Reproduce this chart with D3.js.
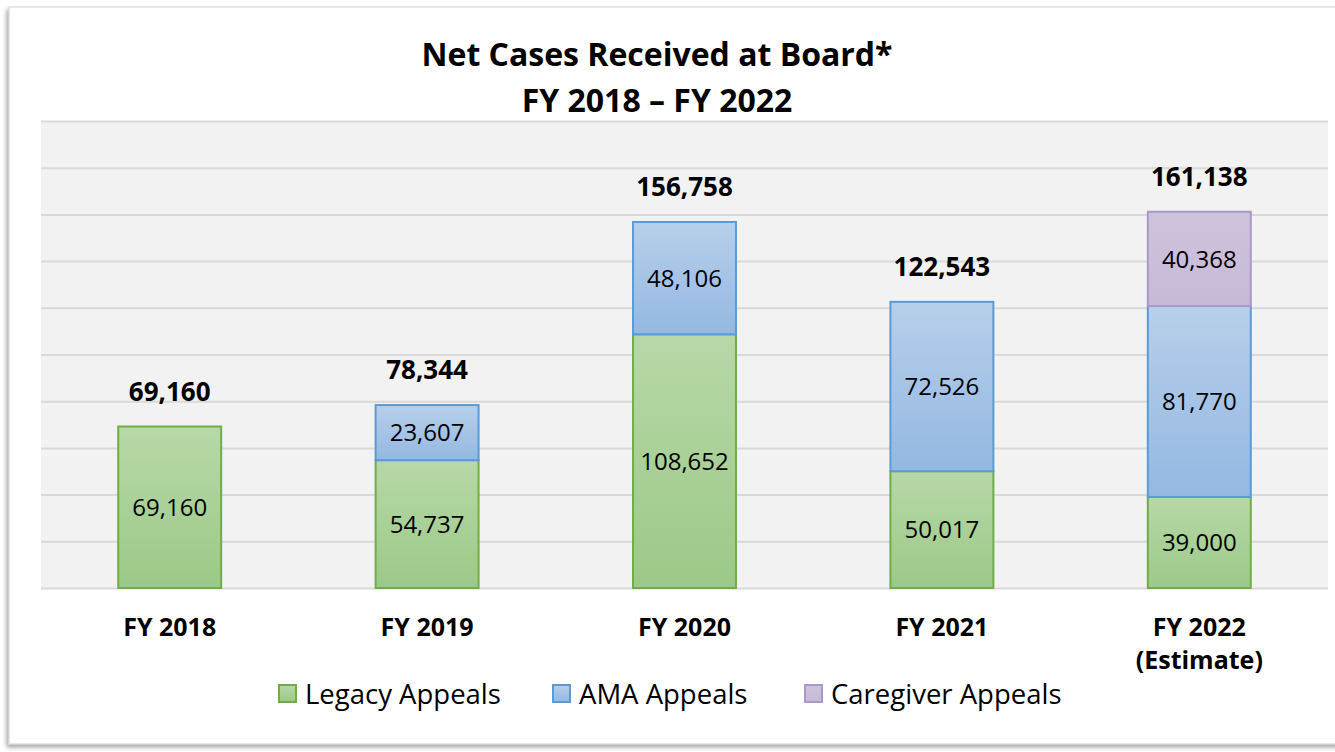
<!DOCTYPE html>
<html>
<head>
<meta charset="utf-8">
<script src="https://cdn.jsdelivr.net/npm/d3@7"></script>
<style>
  html, body { margin: 0; padding: 0; background: #ffffff; }
  svg { display: block; font-family: "Open Sans", Lato, sans-serif; }
</style>
</head>
<body>
<div class="chart"></div>
<script>
// data
const years = ["FY 2018", "FY 2019", "FY 2020", "FY 2021", "FY 2022"];
const yearLines = [["FY 2018"], ["FY 2019"], ["FY 2020"], ["FY 2021"], ["FY 2022", "(Estimate)"]];
const seriesNames = ["Legacy Appeals", "AMA Appeals", "Caregiver Appeals"];
const legacy = [69160, 54737, 108652, 50017, 39000];
const ama = [0, 23607, 48106, 72526, 81770];
const caregiver = [0, 0, 0, 0, 40368];
const totals = [69160, 78344, 156758, 122543, 161138];
const yTicks = [0, 20000, 40000, 60000, 80000, 100000, 120000, 140000, 160000, 180000, 200000];

const W = 1335, H = 752;
const plot = {left: 41, right: 1328, top: 121, bottom: 588};

const svg = d3.select('.chart').append('svg')
    .attr('width', W)
    .attr('height', H);

const defs = svg.append('defs');
const fills = [
    {id: 'gLegacy', top: '#b7d8a8', bottom: '#9cc987', stroke: '#70ad47'},
    {id: 'gAma', top: '#b7cfea', bottom: '#94b8e2', stroke: '#5b9bd5'},
    {id: 'gCare', top: '#cec3dd', bottom: '#c6b9d7', stroke: '#ab98c9'}
];
fills.forEach(f => {
    const g = defs.append('linearGradient').attr('id', f.id)
        .attr('x1', 0).attr('y1', 0).attr('x2', 0).attr('y2', 1);
    g.append('stop').attr('offset', '0%').attr('stop-color', f.top);
    g.append('stop').attr('offset', '100%').attr('stop-color', f.bottom);
});
const shadow = defs.append('filter').attr('id', 'shadow')
    .attr('x', '-5%').attr('y', '-5%').attr('width', '110%').attr('height', '110%');
shadow.append('feDropShadow').attr('dx', -2).attr('dy', 3).attr('stdDeviation', 2)
    .attr('flood-color', '#000').attr('flood-opacity', 0.35);

// outer frame
svg.append('rect')
    .attr('x', 9).attr('y', 7).attr('width', W + 20).attr('height', 737)
    .attr('fill', '#ffffff').attr('stroke', '#d0d0d0').attr('stroke-width', 1)
    .attr('filter', 'url(#shadow)');

// plot background
svg.append('rect')
    .attr('x', plot.left).attr('y', plot.top)
    .attr('width', plot.right - plot.left).attr('height', plot.bottom - plot.top)
    .attr('fill', '#f2f2f2');

const x = d3.scaleBand()
    .domain(years)
    .range([plot.left, plot.right])
    .paddingInner(0.6)
    .paddingOuter(0.3);

const y = d3.scaleLinear()
    .domain([0, 200000])
    .range([plot.bottom, plot.top]);

// gridlines
const yAxis = d3.axisLeft(y).tickValues(yTicks).tickSize(-(plot.right - plot.left)).tickFormat('');
svg.append('g')
    .attr('class', 'grid')
    .attr('transform', `translate(${plot.left},0)`)
    .call(yAxis)
    .call(g => g.select('.domain').remove())
    .call(g => g.selectAll('line').attr('stroke', '#d9d9d9').attr('stroke-width', 2));

// stacked bars
const table = years.map((yr, i) => ({year: yr, legacy: legacy[i], ama: ama[i], caregiver: caregiver[i]}));
const stack = d3.stack().keys(['legacy', 'ama', 'caregiver'])(table);

const layers = svg.selectAll('.layer')
    .data(stack)
    .enter()
    .append('g')
    .attr('class', 'layer');

layers.each(function(layer, li) {
    const segs = layer.filter(d => d[1] - d[0] > 0);
    d3.select(this).selectAll('rect')
        .data(segs)
        .enter()
        .append('rect')
        .attr('x', d => x(d.data.year))
        .attr('y', d => y(d[1]))
        .attr('width', x.bandwidth())
        .attr('height', d => y(d[0]) - y(d[1]))
        .attr('fill', `url(#${fills[li].id})`)
        .attr('stroke', fills[li].stroke)
        .attr('stroke-width', 2);
    d3.select(this).selectAll('text')
        .data(segs)
        .enter()
        .append('text')
        .attr('x', d => x(d.data.year) + x.bandwidth() / 2)
        .attr('y', d => (y(d[0]) + y(d[1])) / 2)
        .attr('dy', '0.36em')
        .attr('text-anchor', 'middle')
        .attr('font-size', 24)
        .attr('fill', '#000')
        .text(d => d3.format(',')(d[1] - d[0]));
});

// totals above bars
svg.selectAll('.total')
    .data(totals)
    .enter()
    .append('text')
    .attr('class', 'total')
    .attr('x', (d, i) => x(years[i]) + x.bandwidth() / 2)
    .attr('y', d => y(d) - 26)
    .attr('text-anchor', 'middle')
    .attr('font-size', 26)
    .attr('font-weight', 'bold')
    .text(d => d3.format(',')(d));

// category labels
const cats = svg.selectAll('.cat')
    .data(yearLines)
    .enter()
    .append('text')
    .attr('class', 'cat')
    .attr('x', (d, i) => x(years[i]) + x.bandwidth() / 2)
    .attr('y', 636)
    .attr('text-anchor', 'middle')
    .attr('font-size', 25)
    .attr('font-weight', 'bold');
cats.selectAll('tspan')
    .data(d => d)
    .enter()
    .append('tspan')
    .attr('x', function() { return d3.select(this.parentNode).attr('x'); })
    .attr('dy', (d, i) => i === 0 ? 0 : 33)
    .text(d => d);

// title
const title = svg.append('text')
    .attr('x', 657)
    .attr('text-anchor', 'middle')
    .attr('font-size', 32)
    .attr('font-weight', 'bold');
title.append('tspan').attr('x', 657).attr('y', 66).text('Net Cases Received at Board*');
title.append('tspan').attr('x', 657).attr('y', 112).text('FY 2018 \u2013 FY 2022');

// legend
const legendX = [279, 553, 805];
const legend = svg.selectAll('.legend')
    .data(seriesNames)
    .enter()
    .append('g')
    .attr('class', 'legend')
    .attr('transform', (d, i) => `translate(${legendX[i]},685)`);
legend.append('rect')
    .attr('width', 17).attr('height', 17)
    .attr('fill', (d, i) => `url(#${fills[i].id})`)
    .attr('stroke', (d, i) => fills[i].stroke)
    .attr('stroke-width', 2);
legend.append('text')
    .attr('x', 26)
    .attr('y', 9)
    .attr('dy', '0.36em')
    .attr('font-size', 27.5)
    .text(d => d);
</script>
</body>
</html>
